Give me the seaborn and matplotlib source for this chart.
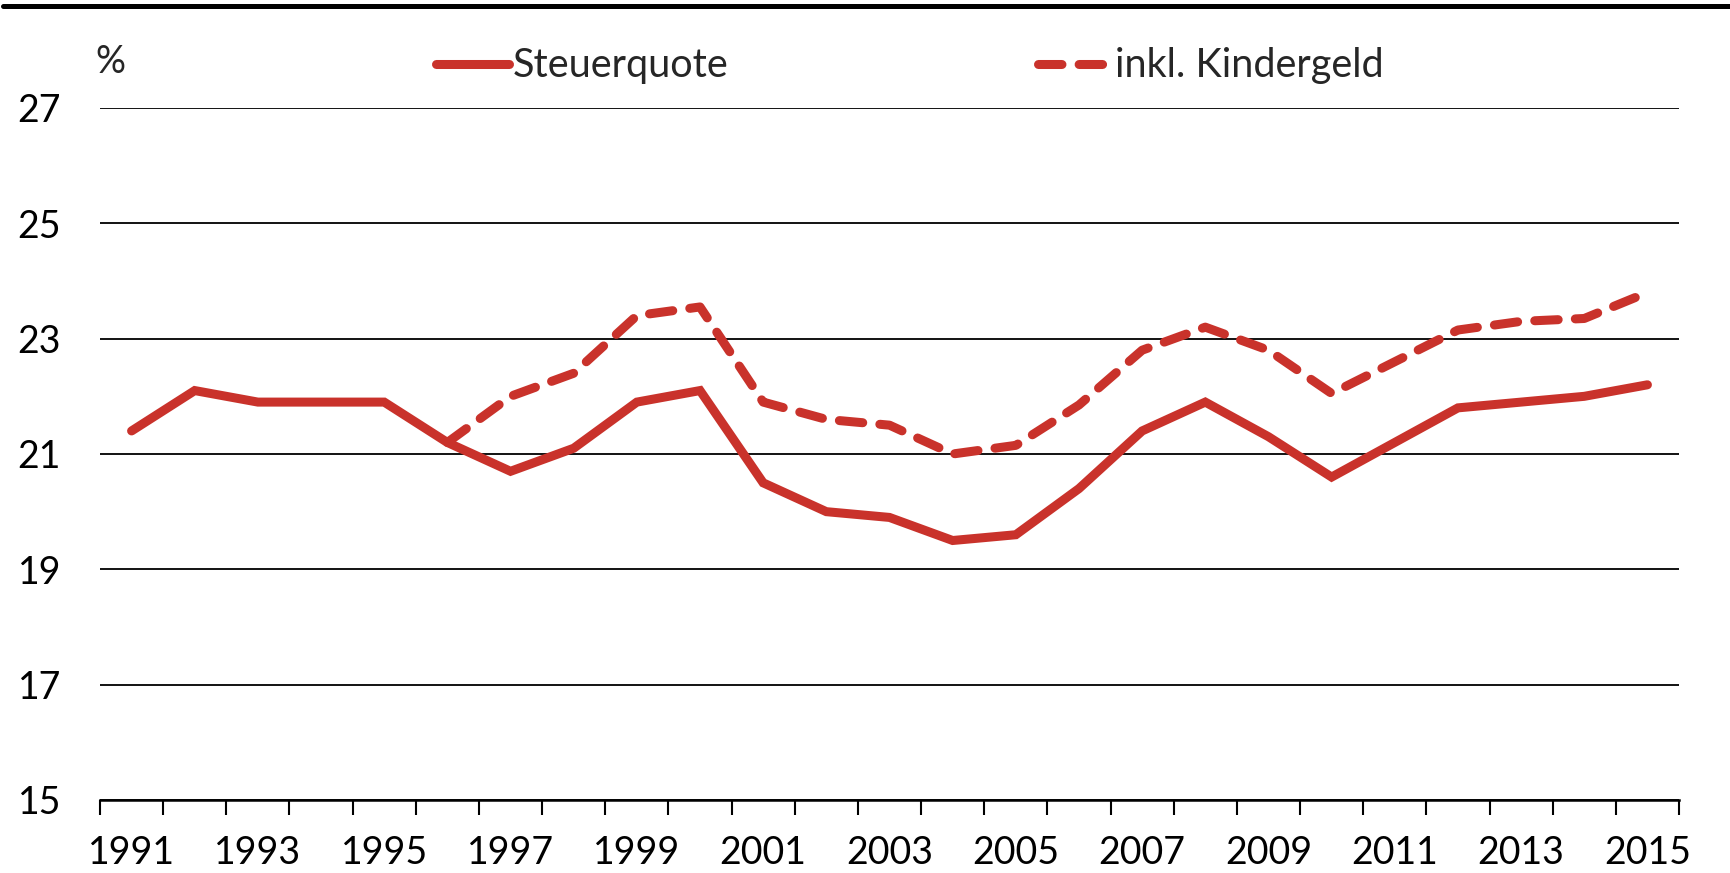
import numpy as np
import pandas as pd
import matplotlib
matplotlib.use("Agg")
import matplotlib.pyplot as plt
import seaborn as sns
from matplotlib.lines import Line2D

# --- data ---
years = list(range(1991, 2016))
steuerquote = [21.4, 22.1, 21.9, 21.9, 21.9, 21.2, 20.7, 21.1, 21.9, 22.1,
               20.5, 20.0, 19.9, 19.5, 19.6, 20.4, 21.4, 21.9, 21.3, 20.6,
               21.2, 21.8, 21.9, 22.0, 22.2]
kindergeld_years = list(range(1996, 2016))
inkl_kindergeld = [21.2, 22.0, 22.4, 23.4, 23.55, 21.9, 21.6, 21.5, 21.0, 21.15,
                   21.85, 22.8, 23.2, 22.8, 22.05, 22.6, 23.15, 23.3, 23.35, 23.8]
y_ticks = [15, 17, 19, 21, 23, 25, 27]
label_years = list(range(1991, 2016, 2))

red = "#C9322B"

sns.set_theme(style="white")
plt.rcParams["font.family"] = ["Lato", "DejaVu Sans"]
plt.rcParams["font.size"] = 26

df1 = pd.DataFrame({"year": years, "value": steuerquote})
df2 = pd.DataFrame({"year": kindergeld_years, "value": inkl_kindergeld})

fig = plt.figure(figsize=(17.31, 8.73), dpi=100)
ax = fig.add_axes([100 / 1731, 1 - 800 / 873, 1579 / 1731, 692 / 873])

sns.lineplot(data=df1, x="year", y="value", ax=ax, color=red, linewidth=6.5,
             solid_joinstyle="miter", solid_capstyle="round", label="Steuerquote")
sns.lineplot(data=df2, x="year", y="value", ax=ax, color=red, linewidth=6.5,
             dash_capstyle="round", label="inkl. Kindergeld")
ax.lines[1].set_dashes([2.6, 1.9])

ax.set_xlim(1990.5, 2015.5)
ax.set_ylim(15, 27)
ax.set_xlabel("")
ax.set_ylabel("")

# gridlines
ax.set_yticks(y_ticks)
ax.yaxis.grid(True, color="black", linewidth=1.3)
ax.set_axisbelow(True)
ax.tick_params(axis="y", length=0, pad=28, labelsize=27, colors="black")

# category boundaries as ticks, labels at odd years
ax.set_xticks(np.arange(1990.5, 2016.5, 1.0))
ax.set_xticklabels([])
ax.set_xticks(label_years, minor=True)
ax.set_xticklabels([str(y) for y in label_years], minor=True)
ax.tick_params(axis="x", which="major", direction="out", length=11, width=1.5,
               color="black", bottom=True)
ax.tick_params(axis="x", which="minor", length=0, pad=25, labelsize=27, colors="black")

for s in ["left", "right", "top"]:
    ax.spines[s].set_visible(False)
ax.spines["bottom"].set_color("black")
ax.spines["bottom"].set_linewidth(1.8)

ax.get_legend().remove()
handles = [Line2D([], [], color=red, linewidth=6.5, solid_capstyle="round"),
           Line2D([], [], color=red, linewidth=6.5, dashes=[2.6, 1.9],
                  dash_capstyle="round")]
fig.legend(handles, ["Steuerquote", "inkl. Kindergeld"], ncol=2, frameon=False,
           loc="center left", bbox_to_anchor=(436 / 1731, 1 - 66 / 873),
           borderpad=0, borderaxespad=0, handlelength=1.85, handletextpad=0.1,
           columnspacing=7.8, fontsize=28.5)

fig.text(110 / 1731, 1 - 62 / 873, "%", ha="center", va="center", fontsize=27)

# black rule across the top
fig.add_artist(Line2D([0.002, 1.0], [1 - 6 / 873, 1 - 6 / 873], color="black",
                      linewidth=3.6, transform=fig.transFigure))

fig.savefig("out.png", dpi=100)
